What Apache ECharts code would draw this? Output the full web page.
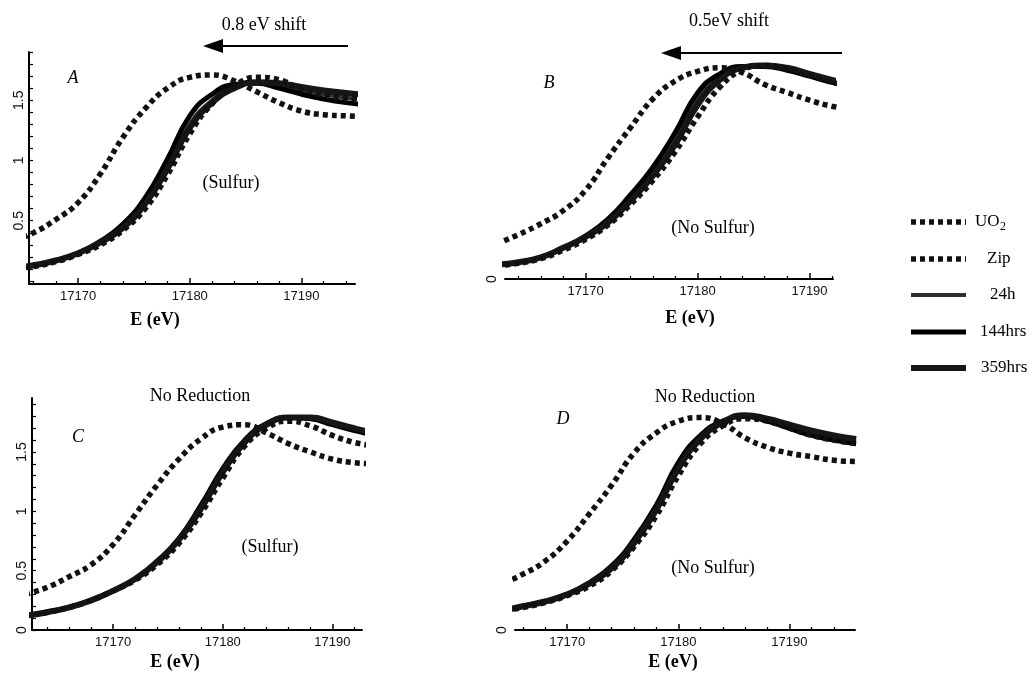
<!DOCTYPE html>
<html>
<head>
<meta charset="utf-8">
<script src="https://cdn.jsdelivr.net/npm/echarts@6/dist/echarts.min.js"></script>
<style>
html, body { margin: 0; padding: 0; background: #fff; }
#chart { width: 1036px; height: 678px; }
</style>
</head>
<body>
<div id="chart"></div>
<script>
// energy grid (eV) used for every curve
var energy = [17162, 17164, 17166, 17168, 17170, 17172, 17174, 17176, 17178,
              17180, 17182, 17184, 17186, 17188, 17190, 17192, 17194, 17196];

// panel A (sulfur)
var A_UO2 = [0.27, 0.33, 0.40, 0.51, 0.65, 0.89, 1.19, 1.43, 1.60, 1.69, 1.71, 1.66, 1.57, 1.48, 1.41, 1.38, 1.37, 1.36];
var A_Zip = [0.07, 0.10, 0.12, 0.16, 0.22, 0.30, 0.42, 0.60, 0.88, 1.22, 1.47, 1.62, 1.69, 1.67, 1.59, 1.54, 1.52, 1.51];
var A_24h = [0.07, 0.10, 0.13, 0.17, 0.23, 0.32, 0.45, 0.66, 0.96, 1.30, 1.50, 1.61, 1.64, 1.62, 1.58, 1.55, 1.52, 1.50];
var A_144 = [0.07, 0.10, 0.13, 0.17, 0.23, 0.33, 0.47, 0.69, 1.01, 1.37, 1.55, 1.63, 1.64, 1.60, 1.55, 1.51, 1.48, 1.46];
var A_359 = [0.07, 0.10, 0.13, 0.17, 0.23, 0.32, 0.44, 0.64, 0.93, 1.27, 1.48, 1.60, 1.65, 1.64, 1.61, 1.58, 1.56, 1.54];

// panel B (no sulfur)
var B_UO2 = [0.29, 0.37, 0.46, 0.57, 0.74, 1.01, 1.26, 1.50, 1.65, 1.73, 1.76, 1.72, 1.62, 1.555, 1.49, 1.44, 1.41, 1.40];
var B_Zip = [0.11, 0.13, 0.17, 0.24, 0.33, 0.45, 0.62, 0.82, 1.06, 1.35, 1.60, 1.74, 1.78, 1.75, 1.70, 1.64, 1.60, 1.57];
var B_24h = [0.12, 0.14, 0.18, 0.26, 0.35, 0.48, 0.67, 0.88, 1.15, 1.49, 1.68, 1.77, 1.78, 1.75, 1.70, 1.65, 1.61, 1.58];
var B_144 = [0.12, 0.14, 0.18, 0.26, 0.36, 0.50, 0.70, 0.93, 1.22, 1.55, 1.71, 1.77, 1.77, 1.74, 1.69, 1.64, 1.60, 1.57];
var B_359 = [0.12, 0.14, 0.18, 0.26, 0.35, 0.47, 0.65, 0.86, 1.12, 1.45, 1.66, 1.76, 1.78, 1.76, 1.71, 1.66, 1.62, 1.59];

// panel C (no reduction, sulfur)
var C_UO2 = [0.30, 0.36, 0.45, 0.55, 0.72, 0.97, 1.22, 1.44, 1.61, 1.71, 1.73, 1.66, 1.57, 1.50, 1.44, 1.41, 1.40, 1.39];
var C_Zip = [0.12, 0.15, 0.19, 0.25, 0.33, 0.42, 0.55, 0.73, 0.98, 1.28, 1.55, 1.70, 1.76, 1.72, 1.64, 1.58, 1.55, 1.53];
var C_24h = [0.12, 0.15, 0.19, 0.25, 0.33, 0.43, 0.57, 0.76, 1.03, 1.34, 1.59, 1.73, 1.79, 1.78, 1.74, 1.69, 1.65, 1.62];
var C_144 = [0.12, 0.15, 0.19, 0.25, 0.33, 0.43, 0.58, 0.77, 1.05, 1.36, 1.60, 1.74, 1.79, 1.78, 1.73, 1.68, 1.64, 1.61];
var C_359 = [0.12, 0.15, 0.19, 0.25, 0.33, 0.43, 0.57, 0.76, 1.02, 1.33, 1.58, 1.73, 1.79, 1.79, 1.75, 1.70, 1.66, 1.63];

// panel D (no reduction, no sulfur)
var D_UO2 = [0.33, 0.39, 0.47, 0.58, 0.75, 0.98, 1.22, 1.49, 1.66, 1.76, 1.79, 1.74, 1.62, 1.54, 1.49, 1.46, 1.43, 1.42];
var D_Zip = [0.13, 0.16, 0.19, 0.23, 0.29, 0.37, 0.50, 0.70, 0.96, 1.30, 1.57, 1.72, 1.78, 1.76, 1.70, 1.64, 1.60, 1.57];
var D_24h = [0.13, 0.16, 0.20, 0.24, 0.30, 0.39, 0.52, 0.74, 1.02, 1.38, 1.62, 1.75, 1.80, 1.77, 1.72, 1.66, 1.62, 1.59];
var D_144 = [0.13, 0.16, 0.20, 0.24, 0.30, 0.40, 0.54, 0.76, 1.05, 1.41, 1.64, 1.76, 1.80, 1.76, 1.70, 1.64, 1.60, 1.57];
var D_359 = [0.13, 0.16, 0.20, 0.24, 0.30, 0.39, 0.52, 0.73, 1.01, 1.36, 1.61, 1.75, 1.81, 1.78, 1.73, 1.68, 1.64, 1.61];

var seriesNames = ['UO2', 'Zip', '24h', '144hrs', '359hrs'];

// tick positions / labels
var xTickLabels = [17170, 17180, 17190];
var xMinorTicks = [17162, 17164, 17166, 17168, 17172, 17174, 17176, 17178, 17182, 17184, 17186, 17188, 17192, 17194, 17196];
var yTicks = [0, 0.1, 0.2, 0.3, 0.4, 0.5, 0.6, 0.7, 0.8, 0.9, 1, 1.1, 1.2, 1.3, 1.4, 1.5, 1.6, 1.7, 1.8, 1.9];
var yLabelsA = [0.5, 1, 1.5];
var yLabelsC = [0, 0.5, 1, 1.5];
var yLabelsBD = [0];

var panels = [
  { grid: { left: 29, top: 52, width: 326, height: 232 }, x: [17165.6, 17194.8], y: [-0.025, 1.9],
    axis: true, yLabels: yLabelsA, curves: [A_UO2, A_Zip, A_24h, A_144, A_359] },
  { grid: { left: 505, top: 51, width: 328, height: 228 }, x: [17162.8, 17192.1], y: [0, 1.9],
    axis: false, yLabels: yLabelsBD, curves: [B_UO2, B_Zip, B_24h, B_144, B_359] },
  { grid: { left: 32, top: 398, width: 330, height: 232 }, x: [17162.6, 17192.7], y: [0, 1.955],
    axis: true, yLabels: yLabelsC, curves: [C_UO2, C_Zip, C_24h, C_144, C_359] },
  { grid: { left: 515, top: 398, width: 340, height: 232 }, x: [17165.3, 17195.9], y: [0, 1.955],
    axis: false, yLabels: yLabelsBD, curves: [D_UO2, D_Zip, D_24h, D_144, D_359] }
];

var lineStyles = [
  { color: '#111', width: 5.5, type: [5, 4] },
  { color: '#111', width: 5.5, type: [5, 4] },
  { color: '#2e2e2e', width: 4, type: 'solid' },
  { color: '#000', width: 5, type: 'solid' },
  { color: '#161616', width: 6, type: 'solid' }
];
var drawOrder = [2, 3, 4, 1, 0];

var tickFont = { fontFamily: 'Liberation Sans, Arial, sans-serif', fontSize: 13, color: '#111' };
var serif = 'Liberation Serif, Times New Roman, serif';
function plain(v) { return String(v); }

var grids = [], xAxes = [], yAxes = [], series = [];
panels.forEach(function (p, i) {
  grids.push(p.grid);
  xAxes.push({
    gridIndex: i, type: 'value', position: 'bottom', min: p.x[0], max: p.x[1],
    axisLine: { show: true, onZero: false, lineStyle: { color: '#000', width: 2 } },
    axisTick: { show: true, inside: true, length: 6, customValues: xTickLabels, lineStyle: { color: '#000', width: 1.5 } },
    axisLabel: Object.assign({ customValues: xTickLabels, margin: 6, formatter: plain }, tickFont),
    splitLine: { show: false }
  });
  yAxes.push({
    gridIndex: i, type: 'value', position: 'left', min: p.y[0], max: p.y[1],
    axisLine: { show: p.axis, onZero: false, lineStyle: { color: '#000', width: 2 } },
    axisTick: { show: p.axis, inside: true, length: 4, customValues: yTicks, lineStyle: { color: '#000', width: 1.2 } },
    axisLabel: Object.assign({ customValues: p.yLabels, rotate: 90, margin: p.axis ? 3 : 6, formatter: plain }, tickFont, { fontSize: 14 }),
    splitLine: { show: false }
  });
  drawOrder.forEach(function (k, j) {
    series.push({
      name: seriesNames[k], type: 'line', xAxisIndex: i, yAxisIndex: i,
      data: energy.map(function (e, n) { return [e, p.curves[k][n]]; }),
      symbol: 'none', smooth: 0.5, z: 2 + j,
      lineStyle: { color: lineStyles[k].color, width: lineStyles[k].width, type: lineStyles[k].type, cap: 'butt' }
    });
  });
});
// minor x ticks on a second, label-less axis in each grid
panels.forEach(function (p, i) {
  xAxes.push({
    gridIndex: i, type: 'value', position: 'bottom', min: p.x[0], max: p.x[1],
    axisLine: { show: false, onZero: false },
    axisTick: { show: true, inside: true, length: 3, customValues: xMinorTicks, lineStyle: { color: '#000', width: 1.2 } },
    axisLabel: { show: false }, splitLine: { show: false }
  });
});

function txt(s, x, y, opt) {
  return {
    type: 'text', x: x, y: y, silent: true,
    style: Object.assign({ text: s, fill: '#000', font: '18px ' + serif, textAlign: 'center', textVerticalAlign: 'middle' }, opt || {})
  };
}
function arrow(x1, x2, y) {
  return [
    { type: 'line', silent: true, shape: { x1: x1 + 16, y1: y, x2: x2, y2: y }, style: { stroke: '#000', lineWidth: 2 } },
    { type: 'polygon', silent: true, shape: { points: [[x1, y], [x1 + 20, y - 7], [x1 + 20, y + 7]] }, style: { fill: '#000' } }
  ];
}

var graphics = [
  txt('0.8 eV shift', 264, 25),
  txt('0.5eV shift', 729, 21),
  txt('A', 73, 78, { font: 'italic 18px ' + serif }),
  txt('B', 549, 83, { font: 'italic 18px ' + serif }),
  txt('C', 78, 437, { font: 'italic 18px ' + serif }),
  txt('D', 563, 419, { font: 'italic 18px ' + serif }),
  txt('(Sulfur)', 231, 183),
  txt('(No Sulfur)', 713, 228),
  txt('(Sulfur)', 270, 547),
  txt('(No Sulfur)', 713, 568),
  txt('No Reduction', 200, 396),
  txt('No Reduction', 705, 397),
  txt('E (eV)', 155, 320, { font: 'bold 18px ' + serif }),
  txt('E (eV)', 690, 318, { font: 'bold 18px ' + serif }),
  txt('E (eV)', 175, 662, { font: 'bold 18px ' + serif }),
  txt('E (eV)', 673, 662, { font: 'bold 18px ' + serif })
].concat(arrow(203, 348, 46), arrow(661, 842, 53));

// legend (drawn by hand to mimic the printed key)
var legendY = [222, 259, 295, 332, 368];
var legendX = [975, 987, 990, 980, 981];
seriesNames.forEach(function (name, k) {
  var ls = lineStyles[k];
  graphics.push({
    type: 'line', silent: true, shape: { x1: 911, y1: legendY[k], x2: 966, y2: legendY[k] },
    style: { stroke: ls.color, lineWidth: ls.width, lineDash: ls.type === 'solid' ? null : ls.type }
  });
  if (name === 'UO2') {
    graphics.push(txt('UO', legendX[k], legendY[k], { textAlign: 'left', font: '17px ' + serif }));
    graphics.push(txt('2', legendX[k] + 25, legendY[k] + 5, { textAlign: 'left', font: '12px ' + serif }));
  } else {
    graphics.push(txt(name, legendX[k], legendY[k], { textAlign: 'left', font: '17px ' + serif }));
  }
});

var chart = echarts.init(document.getElementById('chart'), null, { renderer: 'canvas' });
chart.setOption({
  animation: false,
  backgroundColor: '#fff',
  grid: grids,
  xAxis: xAxes,
  yAxis: yAxes,
  series: series,
  graphic: graphics
});
</script>
</body>
</html>
